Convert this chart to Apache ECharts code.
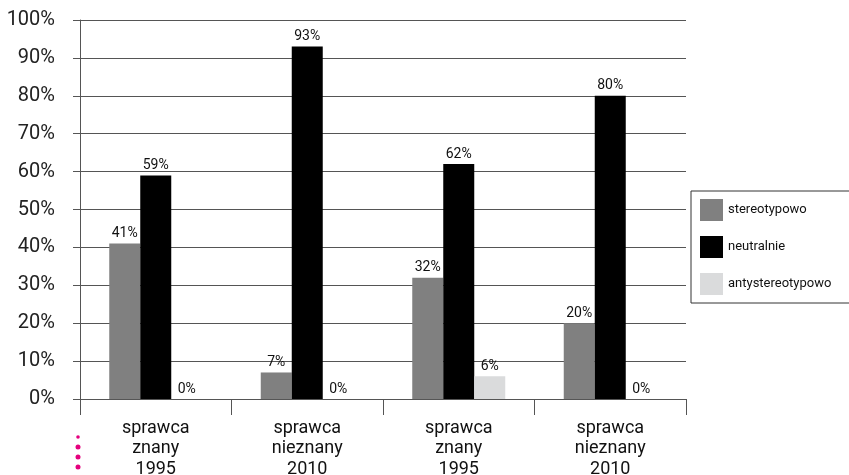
<!DOCTYPE html>
<html>
<head>
<meta charset="utf-8">
<script src="https://cdn.jsdelivr.net/npm/echarts@6/dist/echarts.min.js"></script>
<style>
  html, body { margin: 0; padding: 0; background: #fff; }
  #chart { width: 849px; height: 475px; }
</style>
</head>
<body>
<div id="chart"></div>
<script>
var categories = ['sprawca\nznany\n1995', 'sprawca\nnieznany\n2010', 'sprawca\nznany\n1995', 'sprawca\nnieznany\n2010'];
var seriesNames = ['stereotypowo', 'neutralnie', 'antystereotypowo'];
var stereotypowo = [41, 7, 32, 20];
var neutralnie = [59, 93, 62, 80];
var antystereotypowo = [0, 0, 6, 0];
var colors = ['#808080', '#000000', '#dadbdc'];

var font = "'Roboto', 'DejaVu Sans Condensed', sans-serif";

function makeSeries(name, data, color) {
    return {
        name: name,
        type: 'bar',
        barWidth: 31,
        barGap: '0%',
        itemStyle: { color: color },
        label: {
            show: true,
            position: 'top',
            distance: 3,
            formatter: '{c}%',
            color: '#111',
            fontFamily: font,
            fontSize: 14
        },
        data: data
    };
}

var chart = echarts.init(document.getElementById('chart'));
var option = {
    backgroundColor: '#fff',
    animation: false,
    grid: { left: 80, right: 163, top: 20, bottom: 76, outerBoundsMode: 'none' },
    legend: {
        orient: 'vertical',
        left: 691,
        top: 191,
        icon: 'rect',
        itemWidth: 23,
        itemHeight: 22,
        itemGap: 15,
        padding: [8, 20, 8, 9],
        borderColor: '#333',
        borderWidth: 1,
        textStyle: { fontFamily: font, fontSize: 13, color: '#111' },
        data: seriesNames
    },
    xAxis: {
        type: 'category',
        data: categories,
        axisLine: { lineStyle: { color: '#555', width: 1 } },
        axisTick: { show: true, length: 16, lineStyle: { color: '#555' } },
        axisLabel: {
            margin: 19,
            fontFamily: font,
            fontSize: 18,
            lineHeight: 20.5,
            color: '#111'
        }
    },
    yAxis: {
        type: 'value',
        min: 0,
        max: 100,
        interval: 10,
        axisLine: { show: true, lineStyle: { color: '#555', width: 1 } },
        axisTick: { show: true, length: 7, lineStyle: { color: '#555' } },
        splitLine: { show: true, lineStyle: { color: '#555', width: 1 } },
        axisLabel: {
            margin: 25,
            formatter: '{value}%',
            fontFamily: font,
            fontSize: 20,
            color: '#222'
        }
    },
    graphic: [0, 1, 2, 3].map(function (i) {
        return {
            type: 'circle',
            shape: { cx: 78, cy: 437 + i * 10, r: i === 0 ? 1.8 : 2.5 },
            style: { fill: '#e5007e' }
        };
    }),
    series: [
        makeSeries(seriesNames[0], stereotypowo, colors[0]),
        makeSeries(seriesNames[1], neutralnie, colors[1]),
        makeSeries(seriesNames[2], antystereotypowo, colors[2])
    ]
};

if (option && typeof option === "object") {
    chart.setOption(option, true);
}
</script>
</body>
</html>
